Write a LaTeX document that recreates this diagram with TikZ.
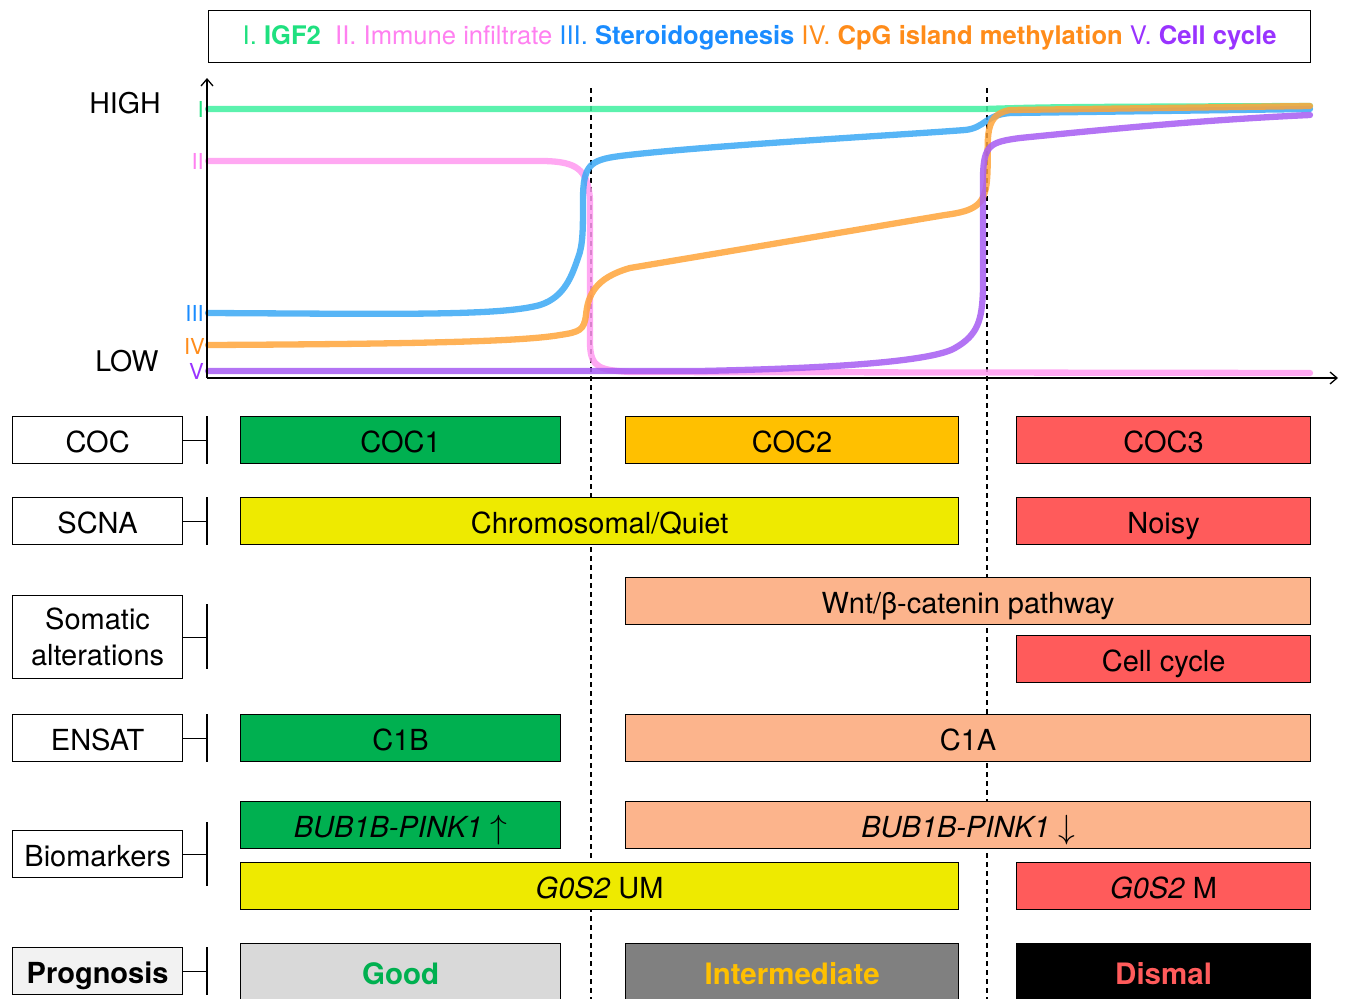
\documentclass[tikz,border=0pt]{standalone}
\usepackage{fontspec}
\setmainfont{TeX Gyre Heros}
\usetikzlibrary{arrows.meta,calc}
\definecolor{cI}{HTML}{3FF0A0}
\definecolor{cII}{HTML}{FF99F0}
\definecolor{cIII}{HTML}{3AA8F5}
\definecolor{cIV}{HTML}{FFA43A}
\definecolor{cV}{HTML}{A65CF2}
\definecolor{tI}{HTML}{1FE07F}
\definecolor{tII}{HTML}{FF80F0}
\definecolor{tIII}{HTML}{1A8CFF}
\definecolor{tIV}{HTML}{FF8C1A}
\definecolor{tV}{HTML}{9933FF}
\definecolor{bgreen}{HTML}{00B050}
\definecolor{bamber}{HTML}{FFC000}
\definecolor{bred}{HTML}{FF5B5B}
\definecolor{byellow}{HTML}{EEEA00}
\definecolor{bsalmon}{HTML}{FCB48C}
\definecolor{bltgray}{HTML}{D9D9D9}
\definecolor{bgray}{HTML}{808080}
\definecolor{lblgray}{HTML}{F2F2F2}
\newcommand{\upar}{\raisebox{-1pt}{\scalebox{1.35}{$\uparrow$}}}
\newcommand{\dnar}{\raisebox{-1pt}{\scalebox{1.35}{$\downarrow$}}}
\tikzset{
  cbox/.style={draw=black, line width=1.2pt, inner sep=0pt, anchor=north west, minimum height=47pt, text height=24pt, text depth=0pt, font=\fontsize{29}{32}\selectfont},
  lbox/.style={draw=black, line width=1.2pt, inner sep=0pt, anchor=north west, minimum width=170pt, font=\fontsize{29}{36}\selectfont, align=center},
  brk/.style={line width=1.2pt},
  curve/.style={line width=6.3pt, opacity=0.85, line cap=round, line join=round},
  vdash/.style={line width=1.1pt, dash pattern=on 5pt off 4pt},
  axlbl/.style={font=\fontsize{28.5}{30}\selectfont, inner sep=0pt},
  rom/.style={font=\fontsize{22}{24}\selectfont, inner sep=0pt, anchor=east},
}
\begin{document}
\begin{tikzpicture}[x=1pt,y=-1pt]
\useasboundingbox (0,0) rectangle (1350,999);
% legend
\node[draw=black, line width=1.2pt, anchor=north west, minimum width=1102pt, minimum height=52pt, inner sep=0pt, text height=19pt, text depth=3pt, font=\fontsize{25.6}{28}\selectfont] (legend) at (208,10)
 {\textcolor{tI}{I. \textbf{IGF2}}\ \ \textcolor{tII}{II. Immune infiltrate} \textcolor{tIII}{III. \textbf{Steroidogenesis}} \textcolor{tIV}{IV. \textbf{CpG island methylation}} \textcolor{tV}{V. \textbf{Cell cycle}}};
% axis labels
\node[axlbl] (high) at (125,103) {HIGH};
\node[axlbl] (low) at (127,361) {LOW};
\node[rom, text=tI] (rI) at (204,109) {I};
\node[rom, text=tII] (rII) at (204,161) {II};
\node[rom, text=tIII] (rIII) at (204,313) {III};
\node[rom, text=tIV] (rIV) at (205,346) {IV};
\node[rom, text=tV] (rV) at (204,371) {V};
% dashed lines
\coordinate (d1t) at (591,88); \coordinate (d1b) at (591,999);
\coordinate (d2t) at (987,88); \coordinate (d2b) at (987,999);
\draw[vdash] (d1t) -- (d1b);
\draw[vdash] (d2t) -- (d2b);
% curves
\draw[curve, cI] (208,109) -- (985,109) .. controls (1050,107) .. (1310,106);
\draw[curve, cII] (208,161) -- (545,161) .. controls (575,162) and (588,168) .. (590,200)
  -- (590,345) .. controls (591,368) and (600,370) .. (630,372) -- (1310,373);
\draw[curve, cIII] (208,313) .. controls (400,314) and (500,316) .. (540,305)
  .. controls (565,297) and (572,275) .. (578,258)
  .. controls (583,245) and (583,230) .. (583,200)
  .. controls (583,165) and (590,160) .. (620,156)
  .. controls (700,146) and (900,135) .. (965,130)
  .. controls (985,128) and (985,115) .. (1010,113) -- (1310,109);
\draw[curve, cIV] (208,345) .. controls (400,344) and (520,342) .. (560,335)
  .. controls (580,332) and (584,330) .. (586,315)
  .. controls (588,295) and (595,278) .. (630,268)
  -- (945,215) .. controls (975,211) and (985,205) .. (987,180)
  .. controls (990,145) and (980,115) .. (1010,110) -- (1310,106);
\draw[curve, cV] (208,371) -- (700,371)
  .. controls (850,368) and (935,360) .. (955,348)
  .. controls (978,335) and (982,320) .. (983,290)
  -- (983,175) .. controls (984,145) and (990,142) .. (1020,138)
  .. controls (1100,130) and (1200,120) .. (1310,115);
% axes
\coordinate (O) at (207,378);
\coordinate (ytop) at (207,78);
\coordinate (xend) at (1338,378);
\draw[line width=1.3pt, -{Straight Barb[length=7pt,width=12pt]}] (O) -- (ytop);
\draw[line width=1.3pt, -{Straight Barb[length=7pt,width=12pt]}] (O) -- (xend);
% left labels
\coordinate (bx) at (207,0);
\node[lbox, minimum height=47pt, text height=24pt, text depth=0pt] (coc) at (12,416) {COC};
\node[lbox, minimum height=47pt, text height=24pt, text depth=0pt] (scna) at (12,497) {SCNA};
\node[lbox, minimum height=83pt] (som) at (12,595) {Somatic\\alterations};
\node[lbox, minimum height=47pt, text height=24pt, text depth=0pt] (ensat) at (12,714) {ENSAT};
\node[lbox, minimum height=47pt, text height=24pt, text depth=0pt] (bio) at (12,830) {Biomarkers};
\node[lbox, minimum height=47pt, text height=24pt, text depth=0pt, fill=lblgray, font=\fontsize{29}{30}\selectfont\bfseries] (prog) at (12,947) {Prognosis};
\foreach \n/\a/\b in {coc/0/0, scna/0/0, som/9/-10, ensat/0/0, bio/-8/8, prog/0/0}{
  \draw[brk] (\n.east) -- (\n.east -| bx);
  \draw[brk] ($(bx |- \n.north)+(0,\a)$) -- ($(bx |- \n.south)+(0,\b)$);
}
% COC row
\node[cbox, fill=bgreen, minimum width=320pt] (coc1) at (240,416) {COC1};
\node[cbox, fill=bamber, minimum width=333pt] (coc2) at (625,416) {COC2};
\node[cbox, fill=bred, minimum width=294pt] (coc3) at (1016,416) {COC3};
% SCNA
\node[cbox, fill=byellow, minimum width=718pt] (quiet) at (240,497) {Chromosomal/Quiet};
\node[cbox, fill=bred, minimum width=294pt] (noisy) at (1016,497) {Noisy};
% somatic
\node[cbox, fill=bsalmon, minimum width=685pt] (wnt) at (625,577) {Wnt/β-catenin pathway};
\node[cbox, fill=bred, minimum width=294pt] (cc) at (1016,635) {Cell cycle};
% ENSAT
\node[cbox, fill=bgreen, minimum width=320pt] (c1b) at (240,714) {C1B};
\node[cbox, fill=bsalmon, minimum width=685pt] (c1a) at (625,714) {C1A};
% biomarkers
\node[cbox, fill=bgreen, minimum width=320pt] (bubup) at (240,801) {\textit{BUB1B-PINK1} \upar};
\node[cbox, fill=bsalmon, minimum width=685pt] (bubdn) at (625,801) {\textit{BUB1B-PINK1} \dnar};
\node[cbox, fill=byellow, minimum width=718pt] (gum) at (240,862) {\textit{G0S2} UM};
\node[cbox, fill=bred, minimum width=294pt] (gm) at (1016,862) {\textit{G0S2} M};
% prognosis
\node[cbox, fill=bltgray, minimum width=320pt, minimum height=58pt, text=bgreen, font=\fontsize{29.5}{30}\selectfont\bfseries] (good) at (240,943) {Good};
\node[cbox, fill=bgray, minimum width=333pt, minimum height=58pt, text=bamber, font=\fontsize{29.5}{30}\selectfont\bfseries] (inter) at (625,943) {Intermediate};
\node[cbox, fill=black, minimum width=294pt, minimum height=58pt, text=bred, font=\fontsize{29.5}{30}\selectfont\bfseries] (dismal) at (1016,943) {Dismal};
\end{tikzpicture}
\end{document}
